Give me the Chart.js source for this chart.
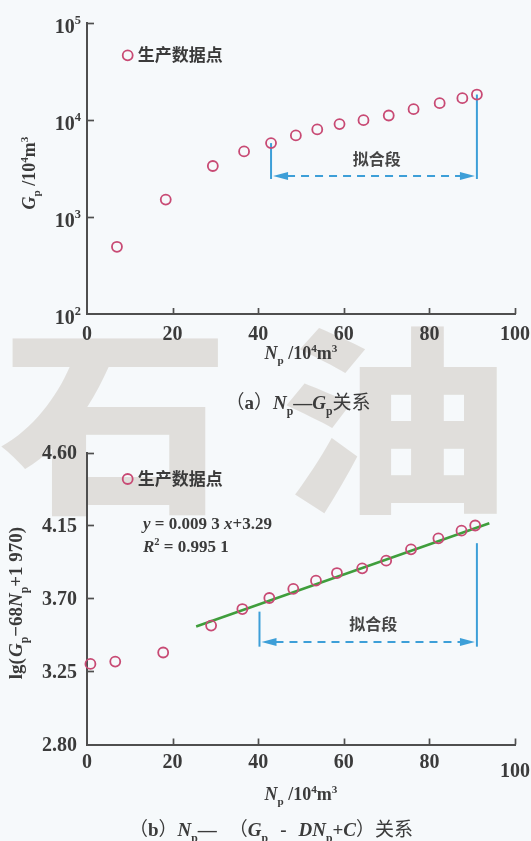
<!DOCTYPE html>
<html>
<head>
<meta charset="utf-8">
<script src="https://cdn.jsdelivr.net/npm/chart.js@4/dist/chart.umd.min.js"></script>
<style>
html, body { margin: 0; padding: 0; background: #f6f9fb; }
#page { position: relative; width: 531px; height: 841px; overflow: hidden; background: #f6f9fb; }
#mark { position: absolute; left: 0; top: 310px; font-family: "Noto Sans CJK SC", sans-serif; font-weight: 900;
        font-size: 200px; line-height: 1; color: #e0dedb; white-space: nowrap; letter-spacing: 43px;
        transform: scaleX(1.15); transform-origin: 0 0; }
canvas { position: absolute; left: 0; }
</style>
</head>
<body>
<div id="page">
  <div id="mark">石油</div>
  <canvas id="chartA" width="531" height="420" style="top:0"></canvas>
  <canvas id="chartB" width="531" height="421" style="top:420px"></canvas>
</div>
<script>
// ---- data ----
// (a) cumulative oil Np vs cumulative gas Gp
const npA = [7.0, 18.4, 29.4, 36.7, 43.0, 48.8, 53.8, 59.0, 64.6, 70.5, 76.3, 82.4, 87.7, 91.1];
const gpA = [493, 1511, 3354, 4748, 5781, 6934, 7990, 9068, 9968, 11133, 12935, 14914, 16787, 18307];
// (b) Np vs lg(Gp - 68Np + 1970)
const npB = [0.8, 6.6, 17.8, 29.0, 36.3, 42.6, 48.2, 53.5, 58.4, 64.3, 69.9, 75.7, 82.1, 87.5, 90.7];
const lgB = [3.297, 3.311, 3.367, 3.533, 3.635, 3.703, 3.759, 3.810, 3.857, 3.886, 3.933, 4.003, 4.071, 4.118, 4.150];
// fitted line y = 0.0093x + 3.29 and the Np span it is drawn over
const fitCoef = [0.0093, 3.29];
const fitSpan = [25.5, 94];
// axis ticks
const xTicks = [0, 20, 40, 60, 80, 100];
const xTickText = ['0', '20', '40', '60', '80', '100'];
const gpTickExp = [2, 3, 4, 5];
const lgTicks = [2.80, 3.25, 3.70, 4.15, 4.60];
const lgTickText = ['2.80', '3.25', '3.70', '4.15', '4.60'];
// "拟合段" brackets, in data units
const fitRangeA = [43.0, 91.1];
const fitTopA = [5781, 18307];
const fitRangeB = [40.3, 91.1];
const fitTopB = [3.619, 4.041];

// ---- styles ----
const PINK = '#c84a74';
const GREEN = '#3f9e3c';
const BLUE = '#3d9fd8';
const AXIS = '#4f4f4f';
const INK = '#3b3b3b';
const SERIF = '"Liberation Serif", "Times New Roman", serif';
const CJK = '"Noto Sans CJK SC", sans-serif';

function runFont(r, size) {
  const sz = r.s ? size * 0.62 : size;
  return (r.i ? 'italic ' : '') + (r.n ? '' : 'bold ') + sz + 'px ' + (r.c ? CJK : SERIF);
}
function richWidth(ctx, runs, size) {
  let w = 0;
  for (const r of runs) { ctx.font = runFont(r, size); w += ctx.measureText(r.t).width + (r.g || 0); }
  return w;
}
// draws mixed-style text; (x, y) is the vertical middle of the line.
// If span is given, the runs flagged with sp get extra room so the line fills that width.
function drawRich(ctx, runs, x, y, size, align, angle, color, span) {
  ctx.save();
  ctx.translate(x, y);
  if (angle) ctx.rotate(angle);
  let w = richWidth(ctx, runs, size);
  let extra = 0;
  const nsp = runs.filter(r => r.sp).length;
  if (span && nsp && span > w) { extra = (span - w) / nsp; w = span; }
  let cx = align === 'center' ? -w / 2 : align === 'right' ? -w : 0;
  ctx.textBaseline = 'alphabetic';
  ctx.textAlign = 'left';
  ctx.fillStyle = color || INK;
  for (const r of runs) {
    ctx.font = runFont(r, size);
    const dy = r.s === 'sub' ? size * 0.28 : r.s === 'sup' ? -size * 0.42 : 0;
    ctx.fillText(r.t, cx, dy + size * 0.34);
    cx += ctx.measureText(r.t).width + (r.g || 0) + (r.sp ? extra : 0);
  }
  ctx.restore();
}
function seg(ctx, x1, y1, x2, y2) { ctx.beginPath(); ctx.moveTo(x1, y1); ctx.lineTo(x2, y2); ctx.stroke(); }

// inward tick marks, tick labels, titles, legend
const frame = {
  id: 'frame',
  afterDraw(chart, args, o) {
    const ctx = chart.ctx, xs = chart.scales.x, ys = chart.scales.y, a = chart.chartArea;
    ctx.save();
    ctx.strokeStyle = AXIS; ctx.lineWidth = 1.7;
    xs.ticks.forEach(t => {
      if (t.value === xs.min) return;
      const px = Math.round(xs.getPixelForValue(t.value)) + 0.5;
      seg(ctx, px, a.bottom, px, a.bottom - 6);
    });
    ys.ticks.forEach(t => {
      if (t.value === ys.min) return;
      const py = Math.round(ys.getPixelForValue(t.value)) + 0.5;
      seg(ctx, a.left, py, a.left + 7, py);
    });
    xs.ticks.forEach((t, i) => {
      drawRich(ctx, [{ t: xTickText[i] }], xs.getPixelForValue(t.value), a.bottom + o.xLabelGap + (o.xLabelDy[i] || 0), 20, 'center');
    });
    ys.ticks.forEach((t, i) => {
      drawRich(ctx, o.yLabel(i), a.left - o.yLabelGap, ys.getPixelForValue(t.value) + o.yLabelDy, 20, 'right');
    });
    for (const tx of o.texts) drawRich(ctx, tx.runs, tx.x, tx.y, tx.size, tx.align || 'left', tx.angle || 0, tx.color, tx.span);
    // legend marker
    ctx.strokeStyle = PINK; ctx.lineWidth = 1.8;
    ctx.beginPath(); ctx.arc(o.legend[0], o.legend[1], 5, 0, Math.PI * 2); ctx.stroke();
    drawRich(ctx, [{ t: '生产数据点', c: 1 }], o.legend[0] + 10, o.legend[1], 17, 'left');
    ctx.restore();
  }
};

// bracket marking the fitted segment
const bracket = {
  id: 'bracket',
  beforeDatasetsDraw(chart, args, o) {
    const ctx = chart.ctx, xs = chart.scales.x, ys = chart.scales.y;
    const x1 = xs.getPixelForValue(o.range[0]), x2 = xs.getPixelForValue(o.range[1]);
    const yb = ys.getPixelForValue(o.bottom), ya = ys.getPixelForValue(o.arrow);
    ctx.save();
    ctx.strokeStyle = BLUE; ctx.fillStyle = BLUE; ctx.lineWidth = 2;
    seg(ctx, x1, ys.getPixelForValue(o.top[0]), x1, yb);
    seg(ctx, x2, ys.getPixelForValue(o.top[1]), x2, yb);
    ctx.setLineDash([8, 6]);
    seg(ctx, x1 + 16, ya, x2 - 16, ya);
    ctx.setLineDash([]);
    ctx.beginPath(); ctx.moveTo(x1 + 2, ya); ctx.lineTo(x1 + 17, ya - 4); ctx.lineTo(x1 + 17, ya + 4); ctx.closePath(); ctx.fill();
    ctx.beginPath(); ctx.moveTo(x2 - 2, ya); ctx.lineTo(x2 - 17, ya - 4); ctx.lineTo(x2 - 17, ya + 4); ctx.closePath(); ctx.fill();
    drawRich(ctx, [{ t: '拟合段', c: 1 }], xs.getPixelForValue(o.label[0]), ys.getPixelForValue(o.label[1]), 16, 'center', 0, '#454545');
    ctx.restore();
  }
};

const axisBase = {
  grid: { display: false, drawTicks: false, tickLength: 0 },
  ticks: { display: false, padding: 0 },
  border: { display: true, color: AXIS, width: 2 }
};

const xAxis = Object.assign({}, axisBase, {
  type: 'linear', min: 0, max: 100,
  afterBuildTicks: s => { s.ticks = xTicks.map(v => ({ value: v })); }
});

const pointStyle = {
  pointStyle: 'circle', pointRadius: 5, pointHoverRadius: 5, pointBorderWidth: 1.8,
  borderColor: PINK, pointBorderColor: PINK, backgroundColor: 'rgba(0,0,0,0)', pointBackgroundColor: 'rgba(0,0,0,0)',
  showLine: false, clip: false
};

// ---- (a) Np – Gp ----
new Chart(document.getElementById('chartA'), {
  type: 'scatter',
  data: {
    datasets: [Object.assign({ label: '生产数据点', data: npA.map((v, i) => ({ x: v, y: gpA[i] })) }, pointStyle)]
  },
  options: {
    responsive: false, animation: false, devicePixelRatio: 1,
    layout: { padding: { left: 87, right: 16, top: 23, bottom: 106 } },
    scales: {
      x: xAxis,
      y: Object.assign({}, axisBase, {
        type: 'logarithmic', min: 100, max: 100000,
        afterBuildTicks: s => { s.ticks = gpTickExp.map(e => ({ value: Math.pow(10, e) })); }
      })
    },
    plugins: {
      legend: { display: false }, tooltip: { enabled: false },
      bracket: { range: fitRangeA, top: fitTopA, bottom: 2466, arrow: 2648, label: [67.7, 3900] },
      frame: {
        xLabelGap: 19, xLabelDy: [],
        yLabelGap: 6, yLabelDy: 3,
        yLabel: i => [{ t: '10' }, { t: String(gpTickExp[i]), s: 'sup' }],
        legend: [127.7, 55.3],
        texts: [
          { runs: [{ t: 'N', i: 1 }, { t: 'p', s: 'sub' }, { t: ' /10' }, { t: '4', s: 'sup' }, { t: 'm' }, { t: '3', s: 'sup' }], x: 301, y: 353, size: 18, align: 'center' },
          { runs: [{ t: 'G', i: 1 }, { t: 'p', s: 'sub' }, { t: ' /10' }, { t: '4', s: 'sup' }, { t: 'm' }, { t: '3', s: 'sup' }], x: 29, y: 173, size: 18, align: 'center', angle: -Math.PI / 2 },
          { runs: [{ t: '（', c: 1, n: 1 }, { t: 'a' }, { t: '）', c: 1, n: 1 }, { t: 'N', i: 1 }, { t: 'p', s: 'sub' }, { t: '—' }, { t: 'G', i: 1 }, { t: 'p', s: 'sub' }, { t: '关系', c: 1, n: 1 }], x: 298, y: 403, size: 19, align: 'center' }
        ]
      }
    }
  },
  plugins: [bracket, frame]
});

// ---- (b) Np – lg(Gp − DNp + C) ----
new Chart(document.getElementById('chartB'), {
  type: 'scatter',
  data: {
    datasets: [
      Object.assign({ label: '生产数据点', data: npB.map((v, i) => ({ x: v, y: lgB[i] })) }, pointStyle),
      {
        label: 'fit', showLine: true, pointRadius: 0, borderColor: GREEN, borderWidth: 2.5, clip: false,
        data: fitSpan.map(v => ({ x: v, y: fitCoef[0] * v + fitCoef[1] }))
      }
    ]
  },
  options: {
    responsive: false, animation: false, devicePixelRatio: 1,
    layout: { padding: { left: 87, right: 16, top: 32.5, bottom: 96.5 } },
    scales: {
      x: xAxis,
      y: Object.assign({}, axisBase, {
        type: 'linear', min: lgTicks[0], max: lgTicks[lgTicks.length - 1],
        afterBuildTicks: s => { s.ticks = lgTicks.map(v => ({ value: v })); }
      })
    },
    plugins: {
      legend: { display: false }, tooltip: { enabled: false },
      bracket: { range: fitRangeB, top: fitTopB, bottom: 3.403, arrow: 3.432, label: [66.9, 3.537] },
      frame: {
        xLabelGap: 17, xLabelDy: [0, 0, 0, 0, 0, 9],
        yLabelGap: 10, yLabelDy: 0,
        yLabel: i => [{ t: lgTickText[i] }],
        legend: [127.7, 59],
        texts: [
          { runs: [{ t: 'y', i: 1 }, { t: ' = 0.009 3 ' }, { t: 'x', i: 1 }, { t: '+3.29' }], x: 143, y: 103.5, size: 17 },
          { runs: [{ t: 'R', i: 1 }, { t: '2', s: 'sup' }, { t: ' = 0.995 1' }], x: 143, y: 126, size: 17 },
          { runs: [{ t: 'N', i: 1 }, { t: 'p', s: 'sub' }, { t: ' /10' }, { t: '4', s: 'sup' }, { t: 'm' }, { t: '3', s: 'sup' }], x: 301, y: 374, size: 18, align: 'center' },
          { runs: [{ t: 'lg' }, { t: '(', g: 1 }, { t: 'G', i: 1 }, { t: 'p', s: 'sub' }, { t: '−68' }, { t: 'N', i: 1 }, { t: 'p', s: 'sub' }, { t: '+1 970' }, { t: ')' }], x: 16, y: 183, size: 19, align: 'center', angle: -Math.PI / 2 },
          { runs: [{ t: '（', c: 1, n: 1 }, { t: 'b' }, { t: '）', c: 1, n: 1 }, { t: 'N', i: 1 }, { t: 'p', s: 'sub' }, { t: '—', sp: 1 }, { t: '（', c: 1, n: 1 }, { t: 'G', i: 1 }, { t: 'p', s: 'sub', sp: 1 }, { t: '-', sp: 1 }, { t: 'DN', i: 1 }, { t: 'p', s: 'sub' }, { t: '+' }, { t: 'C', i: 1 }, { t: '）', c: 1, n: 1 }, { t: '关系', c: 1, n: 1 }], x: 271, y: 410, size: 19, align: 'center', span: 284 }
        ]
      }
    }
  },
  plugins: [bracket, frame]
});
</script>
</body>
</html>
